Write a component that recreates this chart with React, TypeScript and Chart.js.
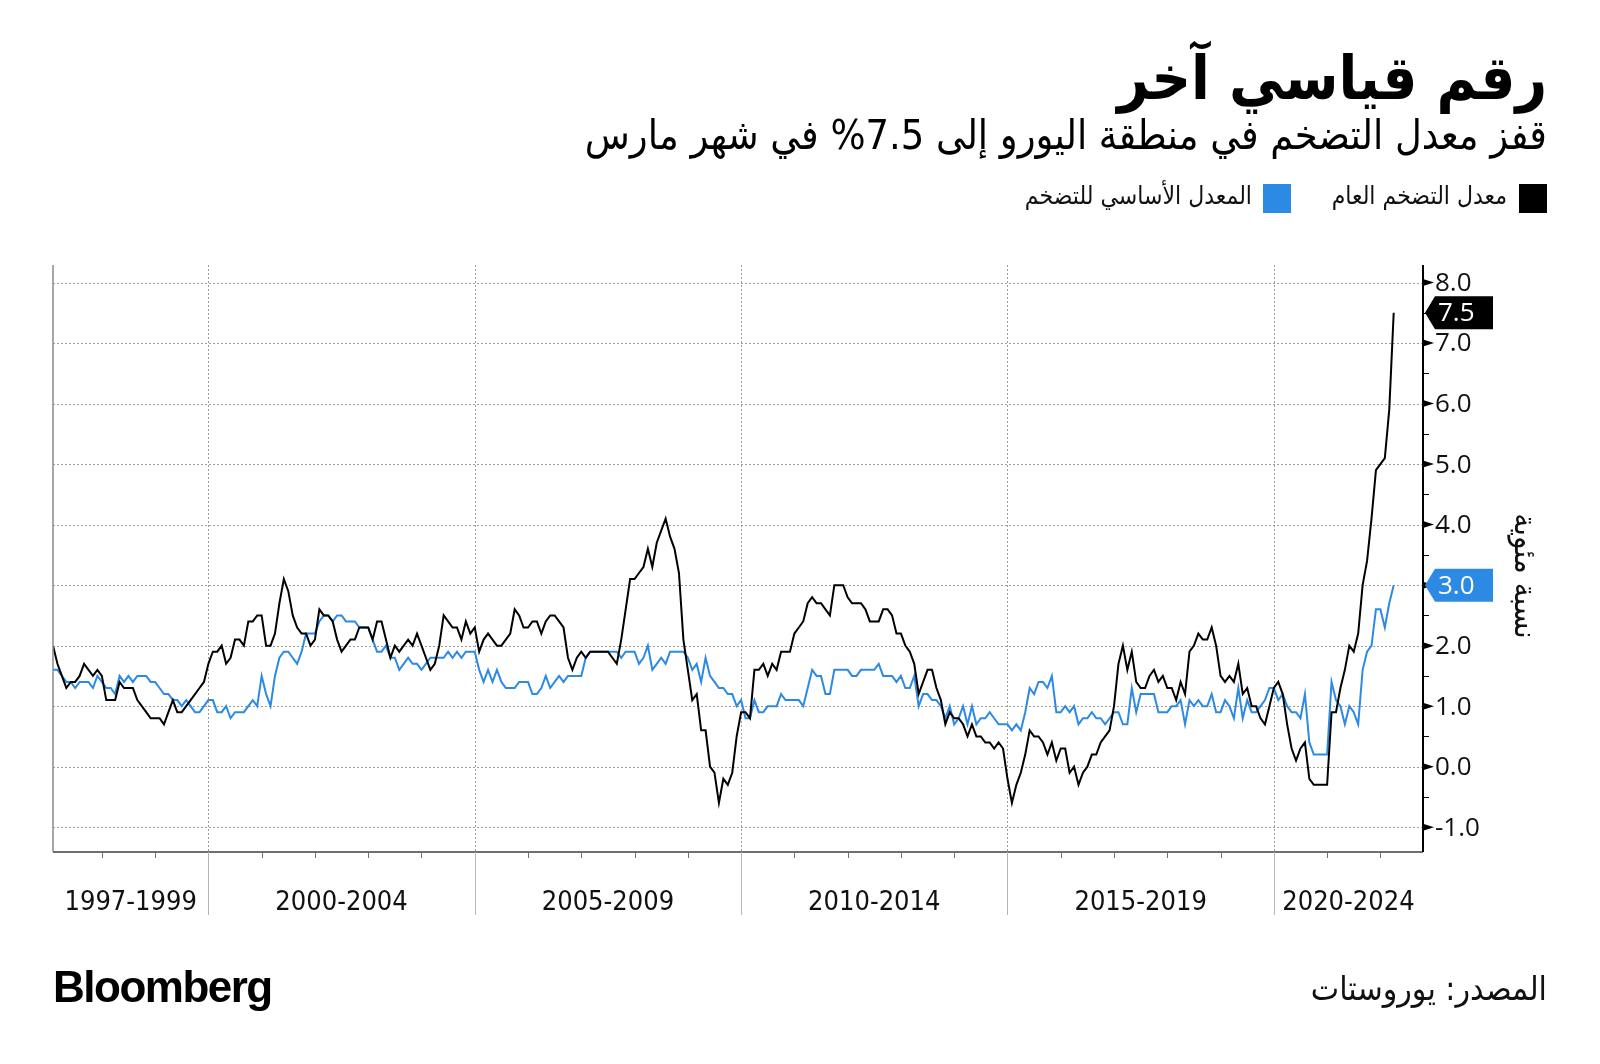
import React, { useEffect, useRef } from 'react';
import { Chart, registerables } from 'chart.js';

Chart.register(...registerables);

// Monthly data from Jan 1997 to Mar 2022 (year-over-year %, euro area)
const START_YEAR = 1997;

const headline: number[] = [
  2.0, 1.7, 1.5, 1.3, 1.4, 1.4, 1.5, 1.7, 1.6, 1.5, 1.6, 1.5, // 1997
  1.1, 1.1, 1.1, 1.4, 1.3, 1.3, 1.3, 1.1, 1.0, 0.9, 0.8, 0.8, // 1998
  0.8, 0.7, 0.9, 1.1, 0.9, 0.9, 1.0, 1.1, 1.2, 1.3, 1.4, 1.7, // 1999
  1.9, 1.9, 2.0, 1.7, 1.8, 2.1, 2.1, 2.0, 2.4, 2.4, 2.5, 2.5, // 2000
  2.0, 2.0, 2.2, 2.7, 3.1, 2.9, 2.5, 2.3, 2.2, 2.2, 2.0, 2.1, // 2001
  2.6, 2.5, 2.5, 2.4, 2.1, 1.9, 2.0, 2.1, 2.1, 2.3, 2.3, 2.3, // 2002
  2.1, 2.4, 2.4, 2.1, 1.8, 2.0, 1.9, 2.0, 2.1, 2.0, 2.2, 2.0, // 2003
  1.8, 1.6, 1.7, 2.0, 2.5, 2.4, 2.3, 2.3, 2.1, 2.4, 2.2, 2.3, // 2004
  1.9, 2.1, 2.2, 2.1, 2.0, 2.0, 2.1, 2.2, 2.6, 2.5, 2.3, 2.3, // 2005
  2.4, 2.4, 2.2, 2.4, 2.5, 2.5, 2.4, 2.3, 1.8, 1.6, 1.8, 1.9, // 2006
  1.8, 1.9, 1.9, 1.9, 1.9, 1.9, 1.8, 1.7, 2.1, 2.6, 3.1, 3.1, // 2007
  3.2, 3.3, 3.6, 3.3, 3.7, 3.9, 4.1, 3.8, 3.6, 3.2, 2.1, 1.6, // 2008
  1.1, 1.2, 0.6, 0.6, 0.0, -0.1, -0.6, -0.2, -0.3, -0.1, 0.5, 0.9, // 2009
  0.9, 0.8, 1.6, 1.6, 1.7, 1.5, 1.7, 1.6, 1.9, 1.9, 1.9, 2.2, // 2010
  2.3, 2.4, 2.7, 2.8, 2.7, 2.7, 2.6, 2.5, 3.0, 3.0, 3.0, 2.8, // 2011
  2.7, 2.7, 2.7, 2.6, 2.4, 2.4, 2.4, 2.6, 2.6, 2.5, 2.2, 2.2, // 2012
  2.0, 1.9, 1.7, 1.2, 1.4, 1.6, 1.6, 1.3, 1.1, 0.7, 0.9, 0.8, // 2013
  0.8, 0.7, 0.5, 0.7, 0.5, 0.5, 0.4, 0.4, 0.3, 0.4, 0.3, -0.2, // 2014
  -0.6, -0.3, -0.1, 0.2, 0.6, 0.5, 0.5, 0.4, 0.2, 0.4, 0.1, 0.3, // 2015
  0.3, -0.1, 0.0, -0.3, -0.1, 0.0, 0.2, 0.2, 0.4, 0.5, 0.6, 1.0, // 2016
  1.7, 2.0, 1.6, 1.9, 1.4, 1.3, 1.3, 1.5, 1.6, 1.4, 1.5, 1.3, // 2017
  1.3, 1.1, 1.4, 1.2, 1.9, 2.0, 2.2, 2.1, 2.1, 2.3, 2.0, 1.5, // 2018
  1.4, 1.5, 1.4, 1.7, 1.2, 1.3, 1.0, 1.0, 0.8, 0.7, 1.0, 1.3, // 2019
  1.4, 1.2, 0.7, 0.3, 0.1, 0.3, 0.4, -0.2, -0.3, -0.3, -0.3, -0.3, // 2020
  0.9, 0.9, 1.3, 1.6, 2.0, 1.9, 2.2, 3.0, 3.4, 4.1, 4.9, 5.0, // 2021
  5.1, 5.9, 7.5, // 2022
];

const core: number[] = [
  1.6, 1.6, 1.5, 1.4, 1.4, 1.3, 1.4, 1.4, 1.4, 1.3, 1.5, 1.4, // 1997
  1.3, 1.3, 1.2, 1.5, 1.4, 1.5, 1.4, 1.5, 1.5, 1.5, 1.4, 1.4, // 1998
  1.3, 1.2, 1.2, 1.1, 1.1, 1.0, 1.1, 1.0, 0.9, 0.9, 1.0, 1.1, // 1999
  1.1, 0.9, 0.9, 1.0, 0.8, 0.9, 0.9, 0.9, 1.0, 1.1, 1.0, 1.5, // 2000
  1.2, 1.0, 1.5, 1.8, 1.9, 1.9, 1.8, 1.7, 1.9, 2.2, 2.2, 2.2, // 2001
  2.4, 2.5, 2.5, 2.4, 2.5, 2.5, 2.4, 2.4, 2.4, 2.3, 2.3, 2.3, // 2002
  2.1, 1.9, 1.9, 2.0, 1.8, 1.8, 1.6, 1.7, 1.8, 1.7, 1.7, 1.6, // 2003
  1.7, 1.8, 1.8, 1.8, 1.8, 1.9, 1.8, 1.9, 1.8, 1.9, 1.9, 1.9, // 2004
  1.6, 1.4, 1.6, 1.4, 1.6, 1.4, 1.3, 1.3, 1.3, 1.4, 1.4, 1.4, // 2005
  1.2, 1.2, 1.3, 1.5, 1.3, 1.4, 1.5, 1.4, 1.5, 1.5, 1.5, 1.5, // 2006
  1.8, 1.9, 1.9, 1.9, 1.9, 1.9, 1.9, 1.9, 1.8, 1.9, 1.9, 1.9, // 2007
  1.7, 1.8, 2.0, 1.6, 1.7, 1.8, 1.7, 1.9, 1.9, 1.9, 1.9, 1.8, // 2008
  1.6, 1.7, 1.4, 1.8, 1.5, 1.4, 1.3, 1.3, 1.2, 1.2, 1.0, 1.1, // 2009
  0.8, 0.8, 1.1, 0.9, 0.9, 1.0, 1.0, 1.0, 1.2, 1.1, 1.1, 1.1, // 2010
  1.1, 1.0, 1.3, 1.6, 1.5, 1.5, 1.2, 1.2, 1.6, 1.6, 1.6, 1.6, // 2011
  1.5, 1.5, 1.6, 1.6, 1.6, 1.6, 1.7, 1.5, 1.5, 1.5, 1.4, 1.5, // 2012
  1.3, 1.3, 1.5, 1.0, 1.2, 1.2, 1.1, 1.1, 1.0, 0.8, 1.0, 0.7, // 2013
  0.8, 1.0, 0.7, 1.0, 0.7, 0.8, 0.8, 0.9, 0.8, 0.7, 0.7, 0.7, // 2014
  0.6, 0.7, 0.6, 0.9, 1.3, 1.2, 1.4, 1.4, 1.3, 1.5, 0.9, 0.9, // 2015
  1.0, 0.9, 1.0, 0.7, 0.8, 0.8, 0.9, 0.8, 0.8, 0.7, 0.8, 0.9, // 2016
  0.9, 0.7, 0.7, 1.3, 0.9, 1.2, 1.2, 1.2, 1.2, 0.9, 0.9, 0.9, // 2017
  1.0, 1.0, 1.1, 0.7, 1.1, 1.0, 1.1, 1.0, 1.0, 1.2, 0.9, 0.9, // 2018
  1.1, 1.0, 0.8, 1.3, 0.8, 1.1, 0.9, 0.9, 1.0, 1.1, 1.3, 1.3, // 2019
  1.1, 1.2, 1.0, 0.9, 0.9, 0.8, 1.2, 0.4, 0.2, 0.2, 0.2, 0.2, // 2020
  1.4, 1.1, 1.0, 0.7, 1.0, 0.9, 0.7, 1.6, 1.9, 2.0, 2.6, 2.6, // 2021
  2.3, 2.7, 3.0, // 2022
];

const yTicks = [-1, 0, 1, 2, 3, 4, 5, 6, 7, 8];
const periodLabels = ['1997-1999', '2000-2004', '2005-2009', '2010-2014', '2015-2019', '2020-2024'];
const periodStartYears = [1997, 2000, 2005, 2010, 2015, 2020];
const tickYears = [1998, 1999, 2000, 2001, 2002, 2003, 2004, 2005, 2006, 2007, 2008, 2009, 2010, 2011, 2012, 2013, 2014, 2015, 2016, 2017, 2018, 2019, 2020, 2021, 2022];

const TITLE = 'رقم قياسي آخر';
const SUBTITLE = 'قفز معدل التضخم في منطقة اليورو إلى 7.5% في شهر مارس';
const LEGEND_HEADLINE = 'معدل التضخم العام';
const LEGEND_CORE = 'المعدل الأساسي للتضخم';
const Y_TITLE = 'نسبة مئوية';
const SOURCE = 'المصدر: يوروستات';

const BLACK = '#000000';
const BLUE = '#2d8ae4';

const X_MIN = 0;
const X_MAX = 308.6;
const Y_MIN = -1.41;
const Y_MAX = 8.29;

// x value of the boundary at the start of a given year (month-end plotting)
const yearBoundary = (yr: number) => (yr - START_YEAR) * 12 - 1;

const decorPlugin = {
  id: 'decor',
  beforeDatasetsDraw(chart: any) {
    const { ctx, chartArea: ca, scales } = chart;
    const x = scales.x;
    const y = scales.y;
    ctx.save();
    ctx.strokeStyle = '#9c9c9c';
    ctx.lineWidth = 1;
    ctx.setLineDash([2, 2]);
    for (const v of yTicks) {
      const py = Math.round(y.getPixelForValue(v)) + 0.5;
      ctx.beginPath();
      ctx.moveTo(ca.left, py);
      ctx.lineTo(ca.right, py);
      ctx.stroke();
    }
    for (let k = 1; k < periodStartYears.length; k++) {
      const px = Math.round(x.getPixelForValue(yearBoundary(periodStartYears[k]))) + 0.5;
      ctx.beginPath();
      ctx.moveTo(px, ca.top);
      ctx.lineTo(px, ca.bottom);
      ctx.stroke();
    }
    ctx.restore();
  },
  afterDatasetsDraw(chart: any) {
    const { ctx, chartArea: ca, scales } = chart;
    const x = scales.x;
    const y = scales.y;
    ctx.save();
    ctx.setLineDash([]);
    // left border
    ctx.strokeStyle = '#8a8a8a';
    ctx.lineWidth = 1.5;
    ctx.beginPath();
    ctx.moveTo(ca.left, ca.top);
    ctx.lineTo(ca.left, ca.bottom);
    ctx.stroke();
    // bottom axis
    ctx.strokeStyle = '#6e6e6e';
    ctx.lineWidth = 2;
    ctx.beginPath();
    ctx.moveTo(ca.left, ca.bottom);
    ctx.lineTo(ca.right, ca.bottom);
    ctx.stroke();
    // year ticks
    ctx.lineWidth = 1;
    ctx.strokeStyle = '#6e6e6e';
    for (const yr of tickYears) {
      const px = Math.round(x.getPixelForValue(yearBoundary(yr))) + 0.5;
      ctx.beginPath();
      ctx.moveTo(px, ca.bottom);
      ctx.lineTo(px, ca.bottom + 6);
      ctx.stroke();
    }
    // period separators below axis
    ctx.strokeStyle = '#b5b5b5';
    for (let k = 1; k < periodStartYears.length; k++) {
      const px = Math.round(x.getPixelForValue(yearBoundary(periodStartYears[k]))) + 0.5;
      ctx.beginPath();
      ctx.moveTo(px, ca.bottom);
      ctx.lineTo(px, ca.bottom + 63);
      ctx.stroke();
    }
    // period labels
    ctx.fillStyle = '#111';
    ctx.font = '27px "DejaVu Sans Condensed", "DejaVu Sans", sans-serif';
    ctx.textAlign = 'center';
    ctx.textBaseline = 'alphabetic';
    for (let k = 0; k < periodLabels.length; k++) {
      const a = Math.max(x.getPixelForValue(yearBoundary(periodStartYears[k])), ca.left);
      const b = k + 1 < periodStartYears.length ? x.getPixelForValue(yearBoundary(periodStartYears[k + 1])) : ca.right;
      ctx.fillText(periodLabels[k], (a + Math.min(b, ca.right)) / 2, 910);
    }
    // right axis
    const ax = ca.right;
    ctx.strokeStyle = '#000';
    ctx.lineWidth = 2;
    ctx.beginPath();
    ctx.moveTo(ax, ca.top);
    ctx.lineTo(ax, ca.bottom);
    ctx.stroke();
    // minor ticks
    ctx.lineWidth = 1;
    for (const v of yTicks) {
      const mv = v + 0.5;
      if (mv > Y_MAX) continue;
      const py = Math.round(y.getPixelForValue(mv)) + 0.5;
      ctx.beginPath();
      ctx.moveTo(ax, py);
      ctx.lineTo(ax + 6, py);
      ctx.stroke();
    }
    // major ticks (triangles) and labels
    const badgeVals = [headline[headline.length - 1], core[core.length - 1]];
    ctx.font = '26px "Open Sans", "DejaVu Sans", sans-serif';
    ctx.textAlign = 'left';
    ctx.textBaseline = 'middle';
    for (const v of yTicks) {
      const py = y.getPixelForValue(v);
      ctx.fillStyle = '#000';
      ctx.beginPath();
      ctx.moveTo(ax, py - 3.5);
      ctx.lineTo(ax + 11, py);
      ctx.lineTo(ax, py + 3.5);
      ctx.closePath();
      ctx.fill();
      if (badgeVals.some((b) => Math.abs(b - v) < 0.01)) continue;
      ctx.fillStyle = '#111';
      ctx.fillText(v.toFixed(1), ax + 12, py + 1);
    }
    // value badges
    const drawBadge = (v: number, color: string) => {
      const py = y.getPixelForValue(v);
      const h = 16.5;
      ctx.fillStyle = color;
      ctx.beginPath();
      ctx.moveTo(ax + 2, py);
      ctx.lineTo(ax + 12, py - h);
      ctx.lineTo(ax + 70, py - h);
      ctx.lineTo(ax + 70, py + h);
      ctx.lineTo(ax + 12, py + h);
      ctx.closePath();
      ctx.fill();
      ctx.fillStyle = '#fff';
      ctx.font = '26px "Open Sans", "DejaVu Sans", sans-serif';
      ctx.textAlign = 'left';
      ctx.textBaseline = 'middle';
      ctx.fillText(v.toFixed(1), ax + 15, py + 1);
    };
    drawBadge(headline[headline.length - 1], BLACK);
    drawBadge(core[core.length - 1], BLUE);
    // y-axis title (rotated)
    ctx.save();
    ctx.translate(1523, 576);
    ctx.rotate(Math.PI / 2);
    ctx.fillStyle = '#111';
    ctx.font = '31px "DejaVu Sans Condensed", "DejaVu Sans", sans-serif';
    ctx.textAlign = 'center';
    ctx.textBaseline = 'middle';
    ctx.direction = 'rtl';
    ctx.fillText(Y_TITLE, 0, 0);
    ctx.restore();
    ctx.restore();
  },
};

export default function App() {
  const canvasRef = useRef<HTMLCanvasElement | null>(null);

  useEffect(() => {
    const canvas = canvasRef.current;
    if (!canvas) return;
    const toPoints = (arr: number[]) => arr.map((v, i) => ({ x: i, y: v }));
    const chart = new Chart(canvas, {
      type: 'line',
      data: {
        datasets: [
          {
            label: LEGEND_HEADLINE,
            data: toPoints(headline),
            borderColor: BLACK,
            borderWidth: 2,
            pointRadius: 0,
            tension: 0,
          },
          {
            label: LEGEND_CORE,
            data: toPoints(core),
            borderColor: BLUE,
            borderWidth: 2,
            pointRadius: 0,
            tension: 0,
          },
        ],
      },
      options: {
        responsive: false,
        animation: false,
        devicePixelRatio: 1,
        layout: { padding: { left: 53, top: 265, right: 1600 - 1423, bottom: 1064 - 852 } },
        plugins: { legend: { display: false }, tooltip: { enabled: false } },
        scales: {
          x: { type: 'linear', min: X_MIN, max: X_MAX, display: false },
          y: { type: 'linear', min: Y_MIN, max: Y_MAX, display: false },
        },
      },
      plugins: [decorPlugin],
    });
    return () => chart.destroy();
  }, []);

  const arabic = '"DejaVu Sans Condensed", "DejaVu Sans", sans-serif';

  return (
    <div style={{ position: 'absolute', left: 0, top: 0, width: 1600, height: 1064, background: '#fff', overflow: 'hidden' }}>
      <canvas ref={canvasRef} width={1600} height={1064} style={{ position: 'absolute', left: 0, top: 0, width: 1600, height: 1064 }} />
      <div dir="rtl" style={{ position: 'absolute', right: 53, top: 47, fontFamily: arabic, fontWeight: 'bold', fontSize: 61, lineHeight: '61px', color: '#000', whiteSpace: 'nowrap' }}>
        {TITLE}
      </div>
      <div dir="rtl" style={{ position: 'absolute', right: 53, top: 115, fontFamily: arabic, fontSize: 41, lineHeight: '41px', color: '#000', whiteSpace: 'nowrap' }}>
        {SUBTITLE}
      </div>
      <div style={{ position: 'absolute', left: 1519, top: 184, width: 28, height: 29, background: BLACK }} />
      <div dir="rtl" style={{ position: 'absolute', right: 1600 - 1507, top: 184, fontFamily: arabic, fontSize: 24.5, lineHeight: '24.5px', color: '#111', whiteSpace: 'nowrap' }}>
        {LEGEND_HEADLINE}
      </div>
      <div style={{ position: 'absolute', left: 1263, top: 184, width: 28, height: 29, background: BLUE }} />
      <div dir="rtl" style={{ position: 'absolute', right: 1600 - 1252, top: 184, fontFamily: arabic, fontSize: 24.5, lineHeight: '24.5px', color: '#111', whiteSpace: 'nowrap' }}>
        {LEGEND_CORE}
      </div>
      <div style={{ position: 'absolute', left: 53, top: 965, fontFamily: '"Liberation Sans", Arial, sans-serif', fontWeight: 'bold', fontSize: 44, lineHeight: '44px', letterSpacing: -1.5, color: '#000', whiteSpace: 'nowrap' }}>
        Bloomberg
      </div>
      <div dir="rtl" style={{ position: 'absolute', right: 53, top: 972, fontFamily: arabic, fontSize: 33.5, lineHeight: '33.5px', color: '#111', whiteSpace: 'nowrap' }}>
        {SOURCE}
      </div>
    </div>
  );
}
